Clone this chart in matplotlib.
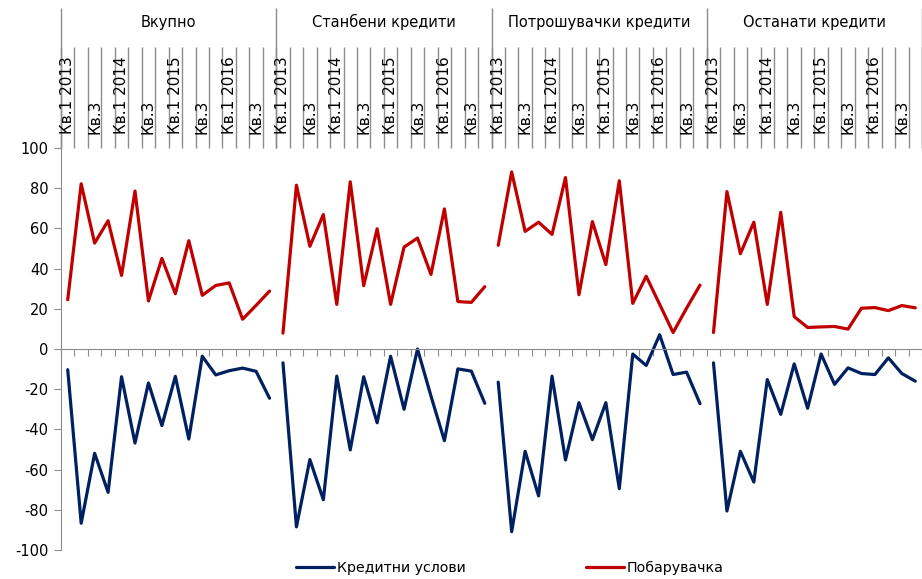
import numpy as np
import matplotlib.pyplot as plt
from matplotlib.transforms import blended_transform_factory

plt.rcParams['font.family'] = 'DejaVu Sans'
plt.rcParams['font.size'] = 10.5
plt.rcParams['axes.unicode_minus'] = False

panels = ['Вкупно', 'Станбени кредити', 'Потрошувачки кредити', 'Останати кредити']
quarter_labels = ['Кв.1 2013', '', 'Кв.3', '', 'Кв.1 2014', '', 'Кв.3', '',
                  'Кв.1 2015', '', 'Кв.3', '', 'Кв.1 2016', '', 'Кв.3', '']

# Побарувачка (demand)
demand_total = [24.5, 82.2, 52.7, 63.8, 36.6, 78.6, 23.9, 45.1,
                27.5, 53.9, 26.7, 31.6, 32.9, 14.8, 21.7, 28.8]
demand_housing = [7.9, 81.5, 51.1, 66.9, 22.2, 83.2, 31.5, 59.8,
                  22.2, 50.7, 55.2, 37.1, 69.7, 23.6, 23.2, 31.0]
demand_consumer = [51.6, 88.1, 58.5, 63.1, 57.0, 85.3, 27.0, 63.4,
                   42.0, 83.7, 22.7, 36.2, 22.2, 8.2, 20.3, 31.8]
demand_other = [8.2, 78.3, 47.4, 63.1, 22.2, 68.0, 16.1, 10.7,
                11.0, 11.2, 9.9, 20.3, 20.6, 19.1, 21.6, 20.5]

# Кредитни услови (credit conditions)
cond_total = [-10.3, -86.7, -51.9, -71.3, -13.8, -46.8, -16.9, -38.1,
              -13.6, -44.8, -3.6, -12.9, -10.8, -9.5, -11.1, -24.5]
cond_housing = [-6.9, -88.5, -55.0, -75.0, -13.5, -50.2, -13.8, -36.7,
                -3.6, -30.0, 0.0, -23.4, -45.6, -9.9, -11.0, -27.0]
cond_consumer = [-16.5, -90.9, -50.9, -73.1, -13.5, -55.2, -26.7, -45.1,
                 -26.7, -69.5, -2.5, -8.2, 7.1, -12.7, -11.5, -27.2]
cond_other = [-6.9, -80.6, -50.9, -66.2, -15.2, -32.5, -7.4, -29.5,
              -2.5, -17.6, -9.4, -12.2, -12.7, -4.4, -12.2, -16.0]

demand = [demand_total, demand_housing, demand_consumer, demand_other]
conditions = [cond_total, cond_housing, cond_consumer, cond_other]

RED = '#C00000'
NAVY = '#002060'
GRAY = '#8c8c8c'

fig = plt.figure(figsize=(9.22, 5.79), dpi=100)
ax = fig.add_axes([61 / 922, 29 / 579, 1 - 61 / 922, 402 / 579])

n = len(quarter_labels)
for p in range(len(panels)):
    x = np.arange(n) + p * n + 0.5
    l_cond, = ax.plot(x, conditions[p], color=NAVY, lw=2.3,
                      solid_joinstyle='round', solid_capstyle='round')
    l_dem, = ax.plot(x, demand[p], color=RED, lw=2.3,
                     solid_joinstyle='round', solid_capstyle='round')

ax.set_xlim(0, 861 / 13.65)
ax.set_ylim(-100, 100)

for s in ['top', 'right']:
    ax.spines[s].set_visible(False)
ax.spines['bottom'].set_position(('data', 0))
ax.spines['bottom'].set_color(GRAY)
ax.spines['left'].set_color(GRAY)

total = n * len(panels)
ax.set_xticks(np.arange(0, total + 1))
ax.set_xticklabels([])
ax.tick_params(axis='x', direction='out', length=5, color=GRAY)
ax.set_yticks(np.arange(-100, 101, 20))
ax.tick_params(axis='y', direction='out', length=5, color=GRAY, pad=4)

# category label area above the plot
trans = blended_transform_factory(ax.transData, ax.transAxes)
ax.vlines(np.arange(0, total + 1), 1.0, 1.251, transform=trans,
          colors=GRAY, lw=1, clip_on=False)
ax.vlines(np.arange(0, total + 1, n), 1.0, 1.348, transform=trans,
          colors=GRAY, lw=1, clip_on=False)
for p, title in enumerate(panels):
    for i, lab in enumerate(quarter_labels):
        if lab:
            ax.text(p * n + i + 0.5, 1.035, lab, rotation=90, ha='center',
                    va='bottom', fontsize=11, transform=trans, clip_on=False)
    ax.text(p * n + n / 2, 1.313, title, ha='center', va='center',
            fontsize=10.5, transform=trans)

fig.legend([l_cond, l_dem], ['Кредитни услови', 'Побарувачка'],
           loc='center', bbox_to_anchor=(0.553, 0.019), ncol=2,
           frameon=False, handlelength=2.7, handletextpad=0.2,
           columnspacing=8.45, fontsize=10.2)

fig.savefig('out.png', dpi=100)
